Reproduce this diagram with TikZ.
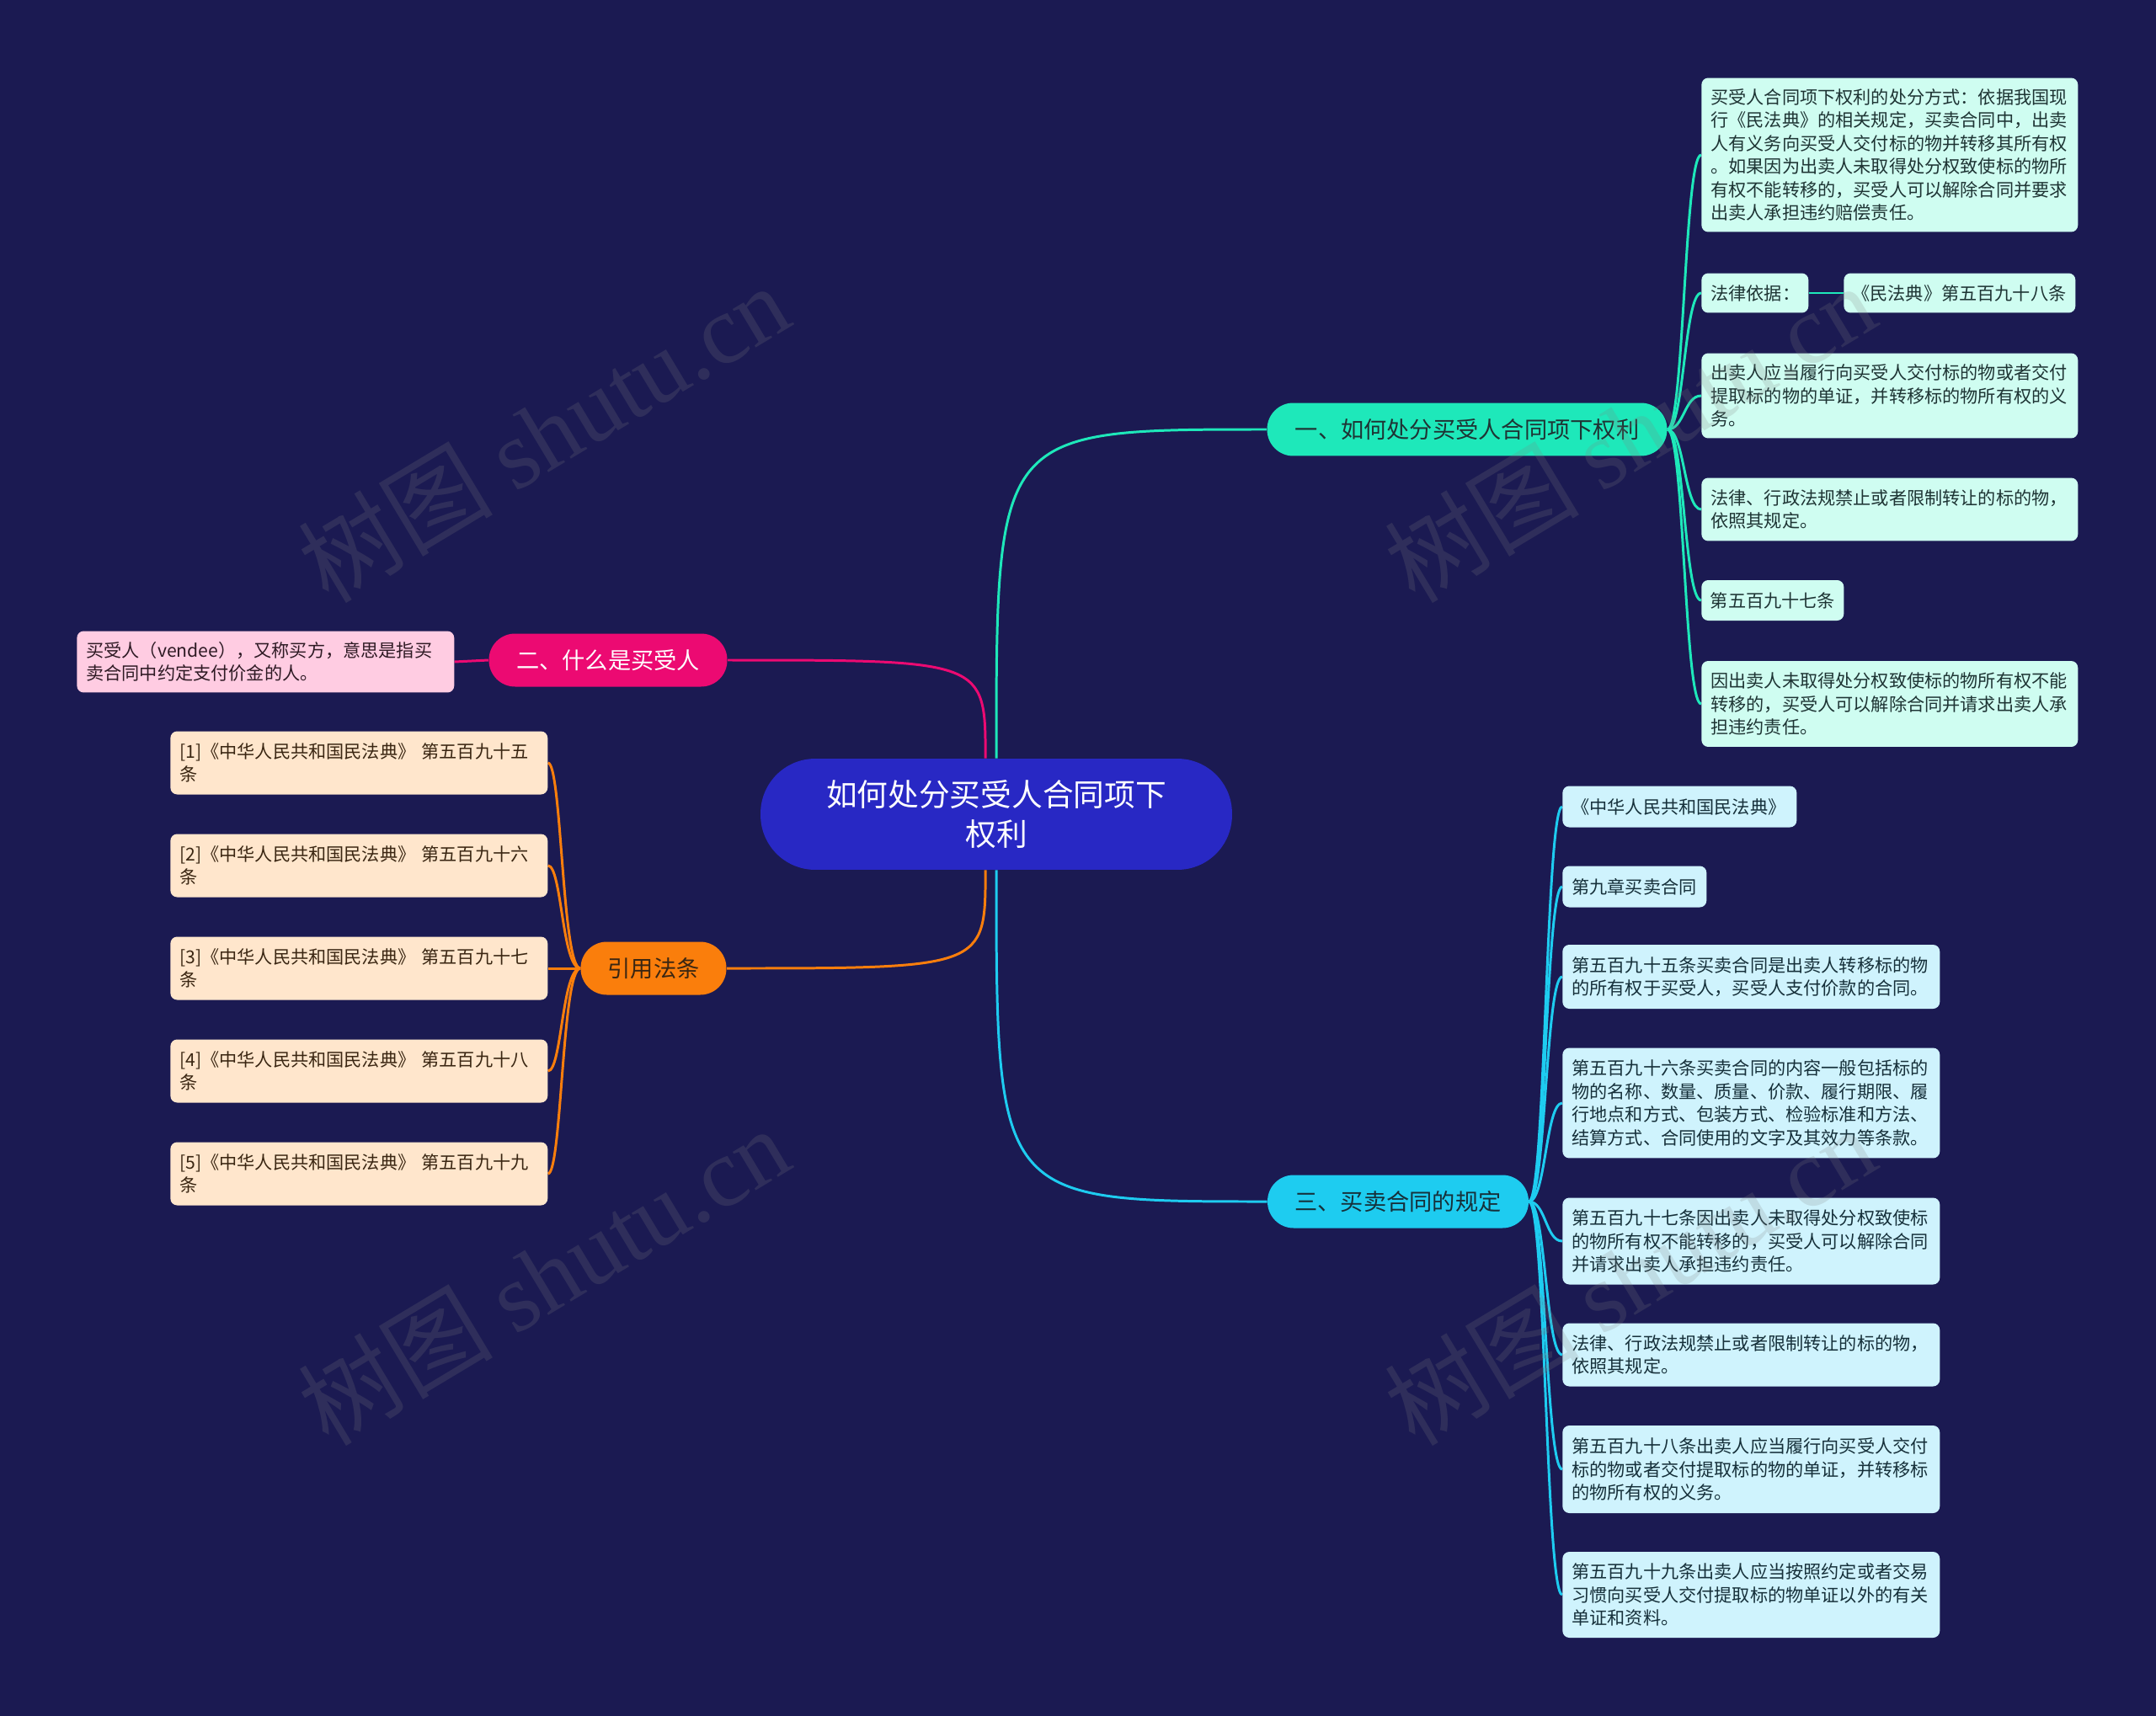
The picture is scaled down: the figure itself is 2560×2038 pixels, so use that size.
\documentclass[tikz,border=0pt]{standalone}
\usepackage{fontspec}
\setmainfont{Noto Sans CJK SC}
\newfontfamily\markfont{Liberation Serif}
\usetikzlibrary{backgrounds}
\definecolor{canvas}{HTML}{1B1A52}
\definecolor{rootfill}{HTML}{2828C4}
\definecolor{tealmain}{HTML}{1EE8BA}
\definecolor{tealleaf}{HTML}{CFFDF1}
\definecolor{pinkmain}{HTML}{EC0A72}
\definecolor{pinkleaf}{HTML}{FFCCE2}
\definecolor{orangemain}{HTML}{FA7E0C}
\definecolor{orangeleaf}{HTML}{FFE6CC}
\definecolor{cyanmain}{HTML}{1ECCF0}
\definecolor{cyanleaf}{HTML}{CFF3FD}
\definecolor{inkteal}{HTML}{1E3434}
\definecolor{inkpink}{HTML}{2E1A24}
\definecolor{inkorange}{HTML}{3A2612}
\definecolor{inkcyan}{HTML}{16303A}
\definecolor{markgray}{HTML}{808080}
\tikzset{
  root/.style={rectangle, rounded corners=1.3cm, fill=rootfill, text=white, align=center, minimum width=11.2cm, minimum height=2.64cm, font=\fontsize{20.9}{26.8}\selectfont},
  topic/.style={rectangle, rounded corners=0.62cm, minimum height=1.26cm, inner sep=0pt, font=\fontsize{15.5}{18}\selectfont},
  leaf/.style={rectangle, rounded corners=0.16cm, anchor=west, align=left, inner xsep=0.22cm, inner ysep=0pt, font=\fontsize{12.05}{15.6}\selectfont},
  tealbox/.style={leaf, fill=tealleaf, text=inkteal},
  pinkbox/.style={leaf, fill=pinkleaf, text=inkpink},
  orangebox/.style={leaf, fill=orangeleaf, text=inkorange},
  cyanbox/.style={leaf, fill=cyanleaf, text=inkcyan},
  link/.style={line width=1.7pt},
  wmark/.style={text=markgray, opacity=0.2, rotate=31, font=\fontsize{66}{66}\selectfont}
}

\begin{document}
\begin{tikzpicture}[x=0.02cm, y=-0.02cm]
\useasboundingbox (0,0) rectangle (2560,2038);

\node[root] (root) at (1183, 967) {如何处分买受人合同项下\\权利};

\node[topic, fill=tealmain, text=inkteal, minimum width=9.5cm] (rights) at (1742, 510) {一、如何处分买受人合同项下权利};
\node[topic, fill=pinkmain, text=white, minimum width=5.66cm] (vendee) at (722, 784) {二、什么是买受人};
\node[topic, fill=orangemain, text=inkorange, minimum width=3.46cm] (statutes) at (776, 1150) {引用法条};
\node[topic, fill=cyanmain, text=inkcyan, minimum width=6.2cm] (rules) at (1660, 1427) {三、买卖合同的规定};

\node[tealbox, text width=8.5cm, minimum height=3.66cm] (rights1) at (2020, 184) {买受人合同项下权利的处分方式：依据我国现\\行《民法典》的相关规定，买卖合同中，出卖\\人有义务向买受人交付标的物并转移其所有权\\。如果因为出卖人未取得处分权致使标的物所\\有权不能转移的，买受人可以解除合同并要求\\出卖人承担违约赔偿责任。};
\node[tealbox, text width=2.1cm, minimum height=0.94cm] (rights2) at (2020, 348) {法律依据：};
\node[tealbox, text width=5.1cm, inner xsep=0.2cm, minimum height=0.94cm] (basisval) at (2189, 348) {《民法典》第五百九十八条};
\node[tealbox, text width=8.5cm, minimum height=2.02cm] (rights3) at (2020, 470) {出卖人应当履行向买受人交付标的物或者交付\\提取标的物的单证，并转移标的物所有权的义\\务。};
\node[tealbox, text width=8.5cm, minimum height=1.5cm] (rights4) at (2020, 605) {法律、行政法规禁止或者限制转让的标的物，\\依照其规定。};
\node[tealbox, text width=2.96cm, inner xsep=0.21cm, minimum height=0.96cm] (rights5) at (2020, 713) {第五百九十七条};
\node[tealbox, text width=8.5cm, minimum height=2.04cm] (rights6) at (2020, 836) {因出卖人未取得处分权致使标的物所有权不能\\转移的，买受人可以解除合同并请求出卖人承\\担违约责任。};

\node[pinkbox, text width=8.52cm, minimum height=1.46cm] (vendeedef) at (91, 786) {买受人（vendee），又称买方，意思是指买\\卖合同中约定支付价金的人。};

\node[orangebox, text width=8.52cm, minimum height=1.5cm] (statute1) at (202, 906) {[1]《中华人民共和国民法典》 第五百九十五\\条};
\node[orangebox, text width=8.52cm, minimum height=1.5cm] (statute2) at (202, 1028) {[2]《中华人民共和国民法典》 第五百九十六\\条};
\node[orangebox, text width=8.52cm, minimum height=1.5cm] (statute3) at (202, 1150) {[3]《中华人民共和国民法典》 第五百九十七\\条};
\node[orangebox, text width=8.52cm, minimum height=1.5cm] (statute4) at (202, 1272) {[4]《中华人民共和国民法典》 第五百九十八\\条};
\node[orangebox, text width=8.52cm, minimum height=1.5cm] (statute5) at (202, 1394) {[5]《中华人民共和国民法典》 第五百九十九\\条};

\node[cyanbox, text width=5.12cm, minimum height=0.98cm] (rule1) at (1855, 958) {《中华人民共和国民法典》};
\node[cyanbox, text width=2.98cm, minimum height=0.98cm] (rule2) at (1855, 1053) {第九章买卖合同};
\node[cyanbox, text width=8.52cm, minimum height=1.52cm] (rule3) at (1855, 1160) {第五百九十五条买卖合同是出卖人转移标的物\\的所有权于买受人，买受人支付价款的合同。};
\node[cyanbox, text width=8.52cm, minimum height=2.62cm] (rule4) at (1855, 1310) {第五百九十六条买卖合同的内容一般包括标的\\物的名称、数量、质量、价款、履行期限、履\\行地点和方式、包装方式、检验标准和方法、\\结算方式、合同使用的文字及其效力等条款。};
\node[cyanbox, text width=8.52cm, minimum height=2.06cm] (rule5) at (1855, 1474) {第五百九十七条因出卖人未取得处分权致使标\\的物所有权不能转移的，买受人可以解除合同\\并请求出卖人承担违约责任。};
\node[cyanbox, text width=8.52cm, minimum height=1.5cm] (rule6) at (1855, 1609) {法律、行政法规禁止或者限制转让的标的物，\\依照其规定。};
\node[cyanbox, text width=8.52cm, minimum height=2.08cm] (rule7) at (1855, 1745) {第五百九十八条出卖人应当履行向买受人交付\\标的物或者交付提取标的物的单证，并转移标\\的物所有权的义务。};
\node[cyanbox, text width=8.52cm, minimum height=2.04cm] (rule8) at (1855, 1894) {第五百九十九条出卖人应当按照约定或者交易\\习惯向买受人交付提取标的物单证以外的有关\\单证和资料。};

\coordinate (forkR) at ([xshift=0.4cm]rights.east);
\coordinate (forkS) at ([xshift=-0.44cm]statutes.west);
\coordinate (forkT) at ([xshift=0.4cm]rules.east);

\begin{pgfonlayer}{background}
  \fill[canvas] (0,0) rectangle (2560,2038);

  \draw[link, tealmain] (root.north) .. controls (root.north |- rights.west) .. (rights.west);
  \draw[link, pinkmain] (root.101) .. controls (root.101 |- vendee.east) .. (vendee.east);
  \draw[link, orangemain] (root.-101) .. controls (root.-101 |- statutes.east) .. (statutes.east);
  \draw[link, cyanmain] (root.south) .. controls (root.south |- rules.west) .. (rules.west);

  \draw[link, tealmain] (rights.east) .. controls (forkR) and (forkR |- rights1.west) .. (rights1.west);
  \draw[link, tealmain] (rights.east) .. controls (forkR) and (forkR |- rights2.west) .. (rights2.west);
  \draw[link, tealmain] (rights.east) .. controls (forkR) and (forkR |- rights3.west) .. (rights3.west);
  \draw[link, tealmain] (rights.east) .. controls (forkR) and (forkR |- rights4.west) .. (rights4.west);
  \draw[link, tealmain] (rights.east) .. controls (forkR) and (forkR |- rights5.west) .. (rights5.west);
  \draw[link, tealmain] (rights.east) .. controls (forkR) and (forkR |- rights6.west) .. (rights6.west);
  \draw[link, tealmain] (rights2.east) -- (basisval.west);

  \draw[link, pinkmain] (vendee.west) -- (vendeedef.east);

  \draw[link, orangemain] (statutes.west) .. controls (forkS) and (forkS |- statute1.east) .. (statute1.east);
  \draw[link, orangemain] (statutes.west) .. controls (forkS) and (forkS |- statute2.east) .. (statute2.east);
  \draw[link, orangemain] (statutes.west) .. controls (forkS) and (forkS |- statute3.east) .. (statute3.east);
  \draw[link, orangemain] (statutes.west) .. controls (forkS) and (forkS |- statute4.east) .. (statute4.east);
  \draw[link, orangemain] (statutes.west) .. controls (forkS) and (forkS |- statute5.east) .. (statute5.east);

  \draw[link, cyanmain] (rules.east) .. controls (forkT) and (forkT |- rule1.west) .. (rule1.west);
  \draw[link, cyanmain] (rules.east) .. controls (forkT) and (forkT |- rule2.west) .. (rule2.west);
  \draw[link, cyanmain] (rules.east) .. controls (forkT) and (forkT |- rule3.west) .. (rule3.west);
  \draw[link, cyanmain] (rules.east) .. controls (forkT) and (forkT |- rule4.west) .. (rule4.west);
  \draw[link, cyanmain] (rules.east) .. controls (forkT) and (forkT |- rule5.west) .. (rule5.west);
  \draw[link, cyanmain] (rules.east) .. controls (forkT) and (forkT |- rule6.west) .. (rule6.west);
  \draw[link, cyanmain] (rules.east) .. controls (forkT) and (forkT |- rule7.west) .. (rule7.west);
  \draw[link, cyanmain] (rules.east) .. controls (forkT) and (forkT |- rule8.west) .. (rule8.west);
\end{pgfonlayer}

% watermarks
\node[wmark] (markA) at (645, 514) {树图 {\markfont shutu.cn}};
\node[wmark] (markB) at (1935, 514) {树图 {\markfont shutu.cn}};
\node[wmark] (markC) at (645, 1515) {树图 {\markfont shutu.cn}};
\node[wmark] (markD) at (1935, 1515) {树图 {\markfont shutu.cn}};

\end{tikzpicture}
\end{document}
